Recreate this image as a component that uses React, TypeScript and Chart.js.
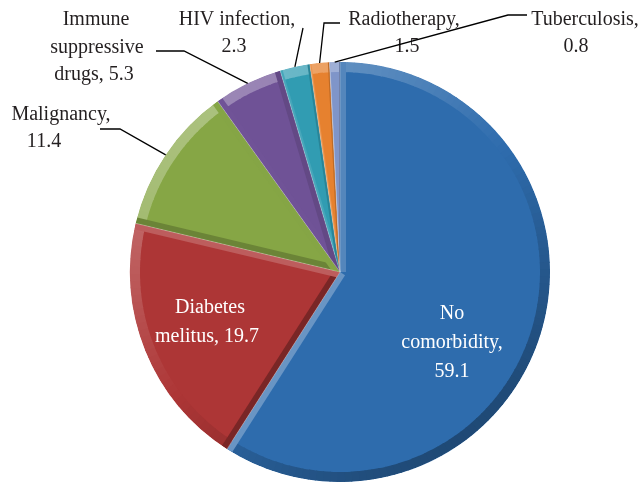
import { useEffect, useRef } from "react";
import { Chart, registerables } from "chart.js";
Chart.register(...registerables);

const categories = [
  "No comorbidity",
  "Diabetes melitus",
  "Malignancy",
  "Immune suppressive drugs",
  "HIV infection",
  "Radiotherapy",
  "Tuberculosis",
];
const values = [59.1, 19.7, 11.4, 5.3, 2.3, 1.5, 0.8];
const labelLines = [
  ["No", "comorbidity,", "{v}"],
  ["Diabetes", "melitus, {v}"],
  ["Malignancy,", "{v}"],
  ["Immune", "suppressive", "drugs, {v}"],
  ["HIV infection,", "{v}"],
  ["Radiotherapy,", "{v}"],
  ["Tuberculosis,", "{v}"],
];
const colors = ["#2E6CAD", "#AD3636", "#86A645", "#6F5296", "#319CB2", "#E6812F", "#7F95C9"];

// label layout (positions only)
const labelLayout: { lines: number[][]; color: string; leader?: number[][] }[] = [
  { lines: [[452, 314], [452, 343], [452, 372]], color: "#FFFFFF" },
  { lines: [[210, 308], [207, 337]], color: "#FFFFFF" },
  { lines: [[61, 115], [44, 142]], color: "#231F20", leader: [[100, 129], [120, 129]] },
  { lines: [[96, 20], [97, 48], [94, 75]], color: "#231F20", leader: [[156, 51], [184, 51]] },
  { lines: [[237, 20], [234, 47]], color: "#231F20", leader: [[303, 28]] },
  { lines: [[404, 20], [407, 47]], color: "#231F20", leader: [[340, 23], [324, 23]] },
  { lines: [[585, 20], [576, 47]], color: "#231F20", leader: [[527, 15], [508, 15]] },
];

function shade(hex: string, amt: number) {
  const n = parseInt(hex.slice(1), 16);
  let r = n >> 16, g = (n >> 8) & 255, b = n & 255;
  if (amt > 0) {
    r += (255 - r) * amt; g += (255 - g) * amt; b += (255 - b) * amt;
  } else {
    r *= 1 + amt; g *= 1 + amt; b *= 1 + amt;
  }
  return `rgb(${Math.round(r)},${Math.round(g)},${Math.round(b)})`;
}

const LIGHT = [-0.6, -0.8];

const bevelPlugin = {
  id: "bevel",
  afterDatasetsDraw(chart: any) {
    const ctx = chart.ctx as CanvasRenderingContext2D;
    const meta = chart.getDatasetMeta(0);
    meta.data.forEach((arc: any, i: number) => {
      const { x, y, startAngle, endAngle, outerRadius: R } = arc.getProps(
        ["x", "y", "startAngle", "endAngle", "outerRadius"], true
      );
      const base = colors[i];
      const tone = (nx: number, ny: number) => {
        const d = nx * LIGHT[0] + ny * LIGHT[1];
        return shade(base, d > 0 ? d * 0.3 : d * 0.32);
      };
      ctx.save();
      ctx.beginPath();
      ctx.moveTo(x, y);
      ctx.arc(x, y, R, startAngle, endAngle);
      ctx.closePath();
      ctx.clip();
      const bw = 10;
      const span = endAngle - startAngle;
      const steps = Math.max(1, Math.ceil(span / (Math.PI / 90)));
      for (let s = 0; s < steps; s++) {
        const a0 = startAngle + (span * s) / steps;
        const a1 = startAngle + (span * (s + 1)) / steps;
        const am = (a0 + a1) / 2;
        ctx.beginPath();
        ctx.arc(x, y, R - bw / 2, a0 - 0.003, a1 + 0.003);
        ctx.lineWidth = bw;
        ctx.strokeStyle = tone(Math.cos(am), Math.sin(am));
        ctx.stroke();
      }
      const rw = Math.min(6, span * R * 0.08);
      const edges = [
        [startAngle, Math.sin(startAngle), -Math.cos(startAngle)],
        [endAngle, -Math.sin(endAngle), Math.cos(endAngle)],
      ];
      for (const [a, nx, ny] of edges) {
        ctx.beginPath();
        ctx.moveTo(x, y);
        ctx.lineTo(x + Math.cos(a) * R, y + Math.sin(a) * R);
        ctx.lineWidth = rw * 2;
        ctx.strokeStyle = tone(nx, ny);
        ctx.stroke();
      }
      ctx.restore();
      // thin separator
      ctx.save();
      ctx.beginPath();
      ctx.moveTo(x, y);
      ctx.lineTo(x + Math.cos(startAngle) * R, y + Math.sin(startAngle) * R);
      ctx.strokeStyle = "rgba(255,255,255,0.35)";
      ctx.lineWidth = 0.8;
      ctx.stroke();
      ctx.restore();
    });
  },
};

const labelPlugin = {
  id: "sliceLabels",
  afterDraw(chart: any) {
    const ctx = chart.ctx as CanvasRenderingContext2D;
    const meta = chart.getDatasetMeta(0);
    ctx.save();
    ctx.font = '20px "Liberation Serif", "DejaVu Serif", serif';
    ctx.textAlign = "center";
    ctx.textBaseline = "middle";
    meta.data.forEach((arc: any, i: number) => {
      const lay = labelLayout[i];
      const { x, y, startAngle, endAngle, outerRadius: R } = arc.getProps(
        ["x", "y", "startAngle", "endAngle", "outerRadius"], true
      );
      if (lay.leader) {
        const am = (startAngle + endAngle) / 2;
        const pts = [...lay.leader, [x + Math.cos(am) * R, y + Math.sin(am) * R]];
        ctx.beginPath();
        ctx.moveTo(pts[0][0], pts[0][1]);
        for (let k = 1; k < pts.length; k++) ctx.lineTo(pts[k][0], pts[k][1]);
        ctx.strokeStyle = "#000000";
        ctx.lineWidth = 1.3;
        ctx.stroke();
      }
      ctx.fillStyle = lay.color;
      labelLines[i].forEach((t, k) => {
        const txt = t.replace("{v}", String(values[i]));
        ctx.fillText(txt, lay.lines[k][0], lay.lines[k][1]);
      });
    });
    ctx.restore();
  },
};

export default function App() {
  const ref = useRef<HTMLCanvasElement>(null);
  useEffect(() => {
    if (!ref.current) return;
    const chart = new Chart(ref.current, {
      type: "pie",
      data: {
        labels: categories,
        datasets: [
          {
            data: values,
            backgroundColor: colors,
            borderColor: "rgba(255,255,255,0.5)",
            borderWidth: 1,
            hoverOffset: 0,
          },
        ],
      },
      options: {
        responsive: false,
        animation: false,
        events: [],
        layout: { padding: { left: 129.5, right: 91.5, top: 61.5, bottom: 2.5 } },
        plugins: { legend: { display: false }, tooltip: { enabled: false } },
      },
      plugins: [bevelPlugin, labelPlugin],
    } as any);
    return () => chart.destroy();
  }, []);
  return (
    <div style={{ position: "fixed", left: 0, top: 0, width: 642, height: 485, background: "#fff" }}>
      <canvas ref={ref} width={642} height={485} style={{ display: "block" }} />
    </div>
  );
}
